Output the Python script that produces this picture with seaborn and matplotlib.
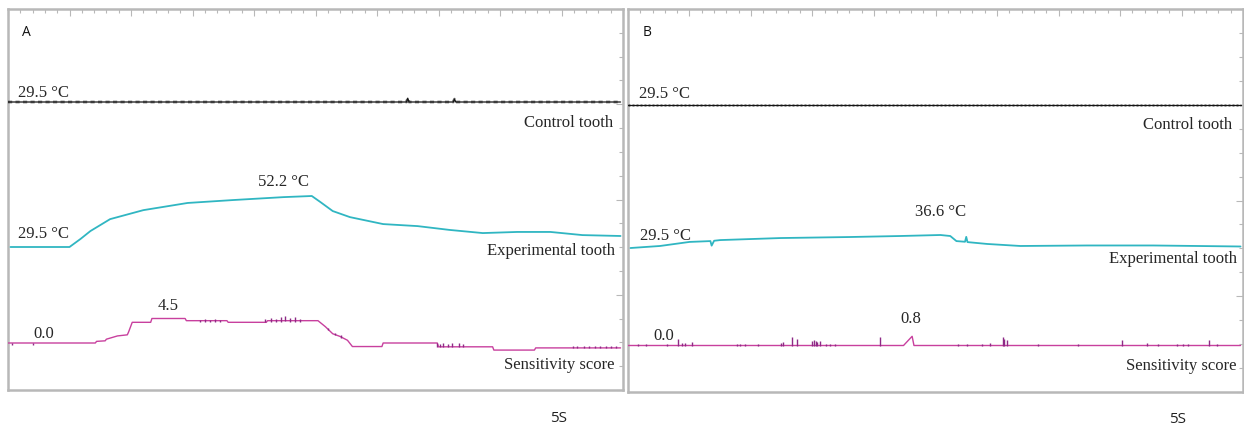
import matplotlib
matplotlib.use("Agg")
import matplotlib.pyplot as plt
from matplotlib.ticker import MultipleLocator
import seaborn as sns
import pandas as pd

# ---- data (time in s, temperature in degC, sensitivity score) ----

# panel A
a_ctrl_t = [0.0, 32.4, 32.5, 32.6, 36.2, 36.3, 36.4, 49.8]
a_ctrl_v = [29.5, 29.5, 31.2, 29.5, 29.5, 30.8, 29.5, 29.5]

a_exp_t = [0.2, 5.0, 5.9, 6.7, 8.3, 11.0, 14.6, 18.3, 22.4, 24.7, 25.4, 26.4,
           27.8, 30.5, 33.3, 35.9, 38.6, 41.4, 44.1, 46.7, 49.8]
a_exp_v = [29.5, 29.5, 33.1, 36.6, 41.9, 45.9, 49.1, 50.4, 51.7, 52.2, 49.5, 45.5,
           42.8, 39.7, 38.8, 37.1, 35.7, 36.2, 36.2, 34.8, 34.4]

a_sens_t = [0.0, 7.1, 7.2, 7.9, 8.0, 8.9, 9.7, 9.8, 10.1, 11.6, 11.7, 14.4, 14.5,
            17.8, 17.9, 21.0, 21.1, 25.2, 25.8, 26.4, 27.0, 27.6, 28.0, 30.4,
            30.5, 34.9, 35.0, 39.4, 39.5, 42.8, 42.9, 49.8]
a_sens_v = [0.0, 0.0, 0.3, 0.4, 0.7, 1.3, 1.5, 2.0, 3.8, 3.8, 4.5, 4.5, 4.1,
            4.1, 3.8, 3.8, 4.1, 4.1, 3.0, 1.7, 1.2, 0.5, -0.65, -0.65,
            0.0, 0.0, -0.7, -0.7, -1.3, -1.3, -0.9, -0.9]

# small jitter marks on the score trace (t, low, high)
a_tick_t = [0.3, 2.0, 15.6, 16.0, 16.4, 16.8, 17.2, 20.9, 21.4, 21.8, 22.2, 22.5,
            22.9, 23.3, 23.7, 26.0, 26.6, 27.1, 34.9, 35.1, 35.4, 35.8, 36.1,
            36.7, 37.0, 45.9, 46.3, 46.8, 47.2, 47.7, 48.1, 48.6, 49.0, 49.4]
a_tick_lo = [-0.4, -0.4, 3.8, 3.8, 3.8, 3.8, 3.8, 3.8, 3.8, 3.8, 3.8, 4.1,
             3.8, 3.8, 3.8, 2.4, 1.4, 0.9, -0.7, -0.7, -0.7, -0.7, -0.7,
             -0.7, -0.7, -1.0, -1.0, -1.0, -1.0, -1.0, -1.0, -1.0, -1.0, -1.0]
a_tick_hi = [0.0, 0.0, 4.3, 4.4, 4.3, 4.4, 4.3, 4.5, 4.6, 4.5, 4.7, 5.0,
             4.6, 4.7, 4.5, 2.8, 1.9, 1.4, 0.0, -0.1, 0.0, -0.1, 0.0,
             0.0, -0.1, -0.6, -0.5, -0.6, -0.5, -0.6, -0.5, -0.6, -0.5, -0.6]

# panel B
b_ctrl_t = [0.0, 49.8]
b_ctrl_v = [29.5, 29.5]

b_exp_t = [0.2, 2.6, 5.0, 6.7, 6.8, 7.0, 7.5, 12.4, 18.0, 22.1, 25.4, 26.2, 26.7,
           27.4, 27.5, 27.6, 29.2, 31.9, 37.3, 42.7, 49.8]
b_exp_v = [28.9, 30.1, 32.5, 33.0, 30.3, 33.2, 33.6, 34.8, 35.4, 36.0, 36.6, 36.0, 33.0,
           32.6, 35.5, 32.4, 31.3, 30.1, 30.4, 30.4, 29.8]

b_sens_t = [0.0, 22.4, 23.1, 23.25, 49.8]
b_sens_v = [0.0, 0.0, 0.8, 0.0, 0.0]

b_spike_t = [0.8, 1.5, 3.2, 4.1, 4.4, 4.6, 5.2, 8.9, 9.1, 9.5, 10.6, 12.4, 12.6,
             13.3, 13.7, 15.0, 15.1, 15.3, 15.4, 15.6, 16.1, 16.4, 16.8, 20.5,
             26.8, 27.6, 28.8, 29.4, 30.5, 30.6, 30.8, 33.3, 36.6, 40.2, 42.2,
             43.1, 44.6, 45.1, 45.5, 47.2, 47.9]
b_spike_h = [0.1, 0.1, 0.15, 0.55, 0.25, 0.2, 0.3, 0.1, 0.1, 0.1, 0.1, 0.2, 0.3,
             0.7, 0.55, 0.4, 0.45, 0.35, 0.3, 0.4, 0.1, 0.1, 0.1, 0.7,
             0.15, 0.15, 0.15, 0.2, 0.7, 0.6, 0.5, 0.15, 0.1, 0.5, 0.2,
             0.15, 0.15, 0.15, 0.15, 0.5, 0.15]

# ---- style ----
sns.set_theme(style="white")
plt.rcParams["font.family"] = ["Liberation Serif", "DejaVu Serif"]

W, H = 1244, 427
CTRL = "#151515"
EXP = "#30b6c2"
SENS = "#c8409e"
SENS_DARK = "#8e2a86"
FRAME = "#b8b8b8"
SERIF = ["Liberation Serif", "DejaVu Serif"]
SANS = ["Open Sans", "DejaVu Sans"]

fig = plt.figure(figsize=(W / 100, H / 100), dpi=100)
fig.patch.set_facecolor("white")


def frame_axes(box):
    left, top, right, bottom = box
    ax = fig.add_axes([left / W, 1 - bottom / H, (right - left) / W, (bottom - top) / H])
    ax.set_xlim(0, 50)
    ax.set_ylim(0, 16)
    ax.xaxis.set_major_locator(MultipleLocator(5))
    ax.xaxis.set_minor_locator(MultipleLocator(1))
    ax.yaxis.set_major_locator(MultipleLocator(4))
    ax.yaxis.set_minor_locator(MultipleLocator(1))
    ax.tick_params(which="both", direction="in", top=True, right=True,
                   labelbottom=False, labelleft=False, color=FRAME, width=0.8)
    ax.tick_params(which="major", length=5)
    ax.tick_params(which="minor", length=3)
    for sp in ax.spines.values():
        sp.set_color(FRAME)
        sp.set_linewidth(1.8)
    ax.set_facecolor("white")
    return ax


def trace_axes(box, v0, y0, v1, y1):
    # axes on top of the frame; v0 sits at pixel row y0, v1 at y1
    left, top, right, bottom = box
    ax = fig.add_axes([left / W, 1 - bottom / H, (right - left) / W, (bottom - top) / H])
    per_px = (v1 - v0) / (y0 - y1)
    ax.set_ylim(v0 - (bottom - y0) * per_px, v0 + (y0 - top) * per_px)
    ax.set_xlim(0, 50)
    ax.axis("off")
    ax.patch.set_alpha(0)
    return ax


def line(ax, t, v, color, lw, **kw):
    df = pd.DataFrame({"t": t, "v": v})
    sns.lineplot(data=df, x="t", y="v", ax=ax, color=color, linewidth=lw,
                 estimator=None, sort=False, legend=False, **kw)
    ax.set_xlim(0, 50)
    ax.axis("off")


def px_text(x, y, s, ha="left", size=12, family=SERIF, color="#262626"):
    fig.text(x / W, 1 - y / H, s, ha=ha, va="center", fontsize=size,
             family=family, color=color)


panels = {
    "A": dict(box=(8, 10, 623, 391), ctrl=(a_ctrl_t, a_ctrl_v), exp=(a_exp_t, a_exp_v),
              sens=(a_sens_t, a_sens_v), ctrl_y=103, exp_anchor=(29.5, 248, 52.2, 197),
              sens_anchor=(0.0, 344, 4.5, 319.5)),
    "B": dict(box=(628, 10, 1243, 393), ctrl=(b_ctrl_t, b_ctrl_v), exp=(b_exp_t, b_exp_v),
              sens=(b_sens_t, b_sens_v), ctrl_y=105.5, exp_anchor=(29.5, 248, 36.6, 236),
              sens_anchor=(0.0, 346.5, 0.8, 337.3)),
}

for name, p in panels.items():
    box = p["box"]
    frame_axes(box)

    ax_c = trace_axes(box, 29.5, p["ctrl_y"], 31.5, p["ctrl_y"] - 4.5)
    line(ax_c, *p["ctrl"], CTRL, 0.9)
    if name == "A":
        line(ax_c, *p["ctrl"], CTRL, 2.0, linestyle=(0, (1.5, 1.2)), alpha=0.55)
    else:
        line(ax_c, *p["ctrl"], CTRL, 1.8, linestyle=(0, (0.8, 0.8)), alpha=0.5)

    ax_e = trace_axes(box, *p["exp_anchor"])
    line(ax_e, *p["exp"], EXP, 1.3)

    ax_s = trace_axes(box, *p["sens_anchor"])
    line(ax_s, *p["sens"], SENS, 1.0)
    if name == "A":
        ax_s.vlines(a_tick_t, a_tick_lo, a_tick_hi, color=SENS_DARK, linewidth=1.0)
    else:
        ax_s.vlines(b_spike_t, 0, b_spike_h, color=SENS_DARK, linewidth=1.0)

# ---- labels ----
px_text(22, 32, "A", size=10, family=SANS, color="#111111")
px_text(643, 33, "B", size=10, family=SANS, color="#111111")

px_text(18, 93, "29.5 °C")
px_text(613, 123, "Control tooth", ha="right")
px_text(258, 182, "52.2 °C")
px_text(18, 234, "29.5 °C")
px_text(615, 251, "Experimental tooth", ha="right")
px_text(158, 306, "4.5")
px_text(33, 334, "0.0")
px_text(615, 365, "Sensitivity score", ha="right")

px_text(639, 94, "29.5 °C")
px_text(1232, 125, "Control tooth", ha="right")
px_text(915, 212, "36.6 °C")
px_text(640, 236, "29.5 °C")
px_text(1237, 259, "Experimental tooth", ha="right")
px_text(900, 319, "0.8")
px_text(653, 336, "0.0")
px_text(1237, 366, "Sensitivity score", ha="right")

px_text(559, 419, "5S", ha="center", size=11, family=SANS, color="#222222")
px_text(1178, 420, "5S", ha="center", size=11, family=SANS, color="#222222")

fig.savefig("out.png", dpi=100, facecolor="white")
